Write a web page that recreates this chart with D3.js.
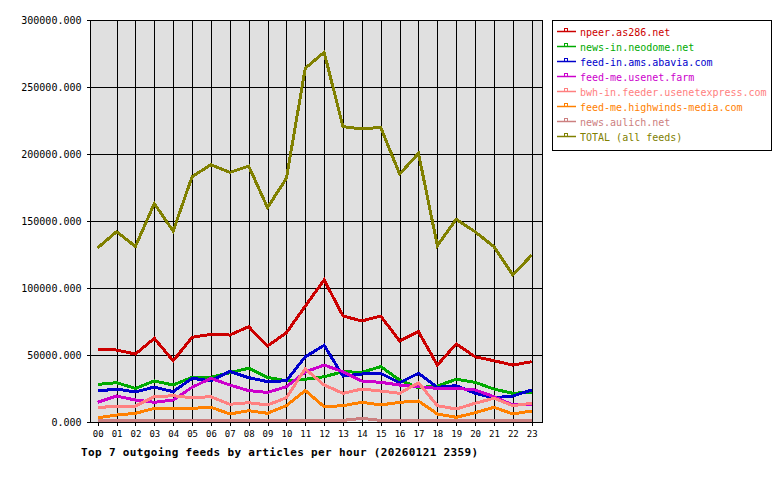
<!DOCTYPE html>
<html>
<head>
<meta charset="utf-8">
<script src="https://cdn.jsdelivr.net/npm/d3@7"></script>
<style>
body { margin: 0; background: #fff; }
svg { display: block; }
</style>
</head>
<body>
<div id="chart"></div>
<script>
'use strict'

// hours of the day
let hours = d3.range(0, 24)

let feedNames = [
	"npeer.as286.net",
	"news-in.neodome.net",
	"feed-in.ams.abavia.com",
	"feed-me.usenet.farm",
	"bwh-in.feeder.usenetexpress.com",
	"feed-me.highwinds-media.com",
	"news.aulich.net",
	"TOTAL (all feeds)"
]

let feedColors = ["#cc0000", "#00aa00", "#0000cc", "#cc00cc", "#ff8080", "#ff8000", "#cc8080", "#808000"]

// articles per hour
let npeer = [54500, 53700, 50700, 62400, 45700, 63200, 65400, 64900, 71100, 56700, 66600, 86500,
	106000, 79100, 75400, 79100, 60400, 67400, 42500, 58200, 48700, 45700, 42500, 45000]
let neodome = [28100, 29300, 25100, 30600, 27600, 33300, 33300, 36800, 40100, 33300, 30800, 31900,
	33800, 37500, 37100, 41300, 31300, 25600, 26900, 31900, 29600, 24600, 21400, 22200]
let abavia = [23100, 24600, 22400, 26100, 22600, 32600, 30800, 37800, 33100, 30100, 30800, 48700,
	57200, 34300, 35800, 36300, 29300, 36300, 25900, 27100, 21400, 18100, 19400, 23900]
let usenetFarm = [14700, 19400, 16400, 14700, 16400, 25900, 32600, 27600, 23400, 22100, 26300, 37300,
	42500, 37500, 30600, 29600, 27600, 26300, 25100, 25100, 23900, 18900, 12700, 13200]
let usenetexpress = [10700, 11900, 11900, 18900, 19600, 18100, 18900, 13200, 14400, 12700, 18100, 39600,
	27600, 21400, 24600, 23100, 21400, 29300, 12200, 9700, 14000, 17700, 12200, 14000]
let highwinds = [3200, 5200, 6500, 10200, 10200, 10200, 11000, 6000, 8400, 6500, 12200, 23500,
	11400, 12200, 14700, 12700, 14700, 15700, 6000, 3500, 6900, 11000, 6000, 8200]
let aulich = [1200, 1200, 1200, 1200, 1200, 1200, 1200, 1200, 1200, 1200, 1200, 1200,
	1200, 1200, 2700, 1200, 1200, 1200, 1200, 1200, 1200, 1200, 1200, 1200]
let total = [130000, 142000, 131000, 163000, 142500, 183000, 192000, 186300, 191000, 160000, 181900, 264000,
	275900, 220400, 218700, 219900, 185000, 200500, 131600, 151300, 142000, 130800, 109700, 124600]

let yTicks = [0, 50000, 100000, 150000, 200000, 250000, 300000]

let titleText = "Top 7 outgoing feeds by articles per hour (20260121 2359)"


function renderFeedGraph(width, height){
	let series = [npeer, neodome, abavia, usenetFarm, usenetexpress, highwinds, aulich, total]
	let box = {left: 90.5, right: 542, top: 20, bottom: 422}
	let mono = "'DejaVu Sans Mono', monospace"

	let svg = d3.select("#chart")
		.append("svg")
		.attr("width", width)
		.attr("height", height)

	let xScale = d3.scaleLinear().domain([0, 23]).range([97.7, 531.7])
	let yScale = d3.scaleLinear().domain([0, 300000]).range([box.bottom, box.top])

	svg.append("rect")
		.attr("x", box.left)
		.attr("y", box.top)
		.attr("width", box.right - box.left)
		.attr("height", box.bottom - box.top)
		.attr("fill", "#e0e0e0")

	// grid
	let vgrid = svg.append("g")
		.attr("transform", "translate(0," + box.bottom + ")")
		.call(d3.axisBottom(xScale).tickValues(hours.slice(1)).tickSize(-(box.bottom - box.top)).tickFormat(""))
	vgrid.select(".domain").remove()
	vgrid.selectAll("line").attr("stroke", "#000").attr("shape-rendering", "crispEdges")

	let hgrid = svg.append("g")
		.attr("transform", "translate(" + box.left + ",0)")
		.call(d3.axisLeft(yScale).tickValues(yTicks).tickSize(-(box.right - box.left)).tickFormat(""))
	hgrid.select(".domain").remove()
	hgrid.selectAll("line").attr("stroke", "#000").attr("shape-rendering", "crispEdges")

	svg.append("rect")
		.attr("x", box.left)
		.attr("y", box.top)
		.attr("width", box.right - box.left)
		.attr("height", box.bottom - box.top)
		.attr("fill", "none")
		.attr("stroke", "#000")
		.attr("shape-rendering", "crispEdges")

	// axes
	let yAxis = svg.append("g")
		.attr("transform", "translate(" + box.left + ",0)")
		.call(d3.axisLeft(yScale).tickValues(yTicks).tickSize(4).tickPadding(5).tickFormat(d3.format(".3f")))
	yAxis.select(".domain").remove()
	yAxis.selectAll("line").attr("stroke", "#000").attr("shape-rendering", "crispEdges")
	yAxis.selectAll("text")
		.attr("font-family", mono)
		.attr("font-size", "10px")
		.attr("fill", "#000")
		.attr("dy", "3.5")

	let xAxis = svg.append("g")
		.attr("transform", "translate(0," + box.bottom + ")")
		.call(d3.axisBottom(xScale).tickValues(hours).tickSize(4).tickPadding(6).tickFormat(d3.format("02d")))
	xAxis.select(".domain").remove()
	xAxis.selectAll("line").attr("stroke", "#000").attr("shape-rendering", "crispEdges")
	xAxis.selectAll("text")
		.attr("font-family", mono)
		.attr("font-size", "9px")
		.attr("fill", "#000")
		.attr("dy", "0.5em")

	// lines
	let line = d3.line()
		.x(function(d, i){ return xScale(i) })
		.y(function(d){ return yScale(d) })

	svg.append("g").selectAll("path")
		.data(series)
		.enter()
		.append("path")
		.attr("d", function(d){ return line(d) })
		.attr("fill", "none")
		.attr("stroke", function(d, i){ return feedColors[i] })
		.attr("stroke-width", 3)
		.attr("stroke-linejoin", "miter")
		.attr("shape-rendering", "crispEdges")

	// title
	svg.append("text")
		.attr("x", 81)
		.attr("y", 456)
		.attr("font-family", mono)
		.attr("font-size", "11px")
		.attr("font-weight", "bold")
		.attr("letter-spacing", "0.35px")
		.text(titleText)

	// legend
	let legend = svg.append("g")
	legend.append("rect")
		.attr("x", 552.5)
		.attr("y", 20.5)
		.attr("width", 219)
		.attr("height", 130)
		.attr("fill", "#fff")
		.attr("stroke", "#000")

	let rows = legend.selectAll(".legend-row")
		.data(feedNames)
		.enter()
		.append("g")
		.attr("class", "legend-row")
		.attr("transform", function(d, i){ return "translate(0," + (36 + i * 15) + ")" })

	rows.append("line")
		.attr("x1", 557).attr("x2", 576)
		.attr("y1", -4.5).attr("y2", -4.5)
		.attr("stroke", function(d, i){ return feedColors[i] })
		.attr("stroke-width", 1.5)
	rows.append("rect")
		.attr("x", 564.5).attr("y", -7.5)
		.attr("width", 3).attr("height", 3)
		.attr("fill", "none")
		.attr("stroke", function(d, i){ return feedColors[i] })
		.attr("stroke-width", 1)
	rows.append("text")
		.attr("x", 580)
		.attr("y", 0)
		.attr("font-family", mono)
		.attr("font-size", "10px")
		.attr("fill", function(d, i){ return feedColors[i] })
		.text(function(d){ return d })
}

renderFeedGraph(780, 480)
</script>
</body>
</html>
